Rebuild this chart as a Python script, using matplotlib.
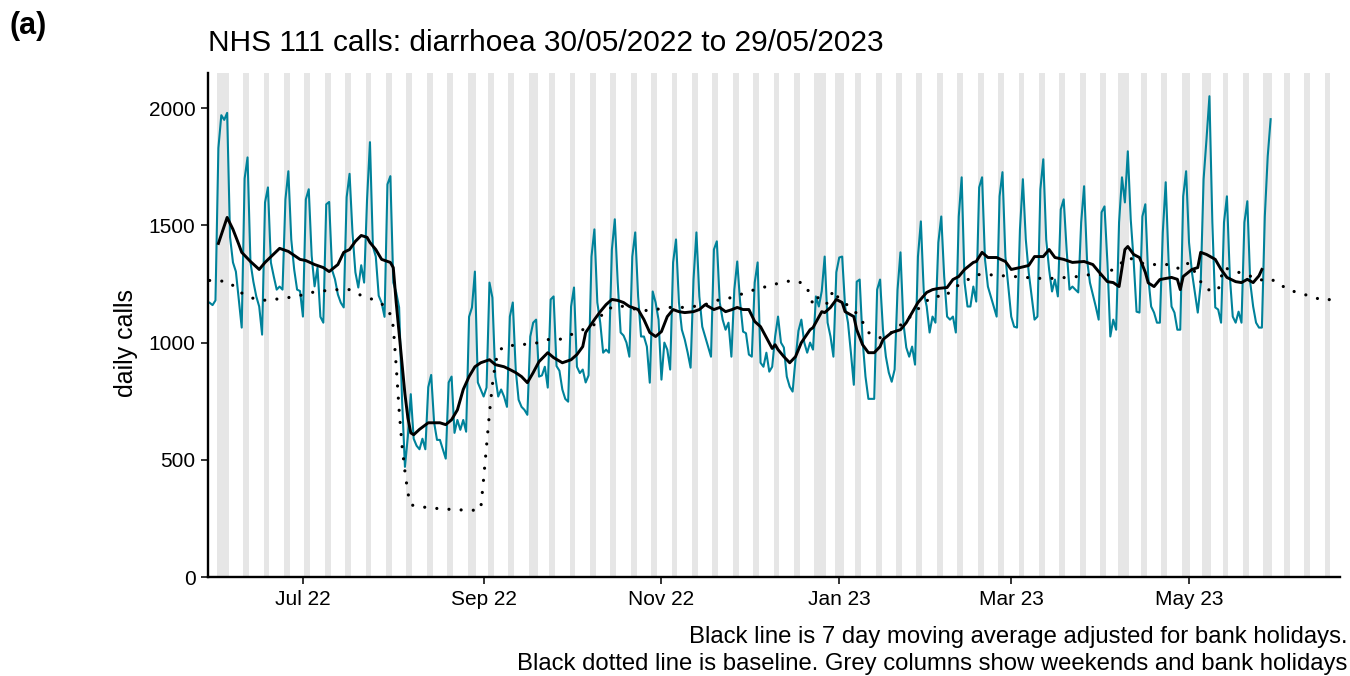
import pandas as pd
import matplotlib
matplotlib.use("Agg")
import matplotlib.pyplot as plt
import matplotlib.dates as mdates

plt.rcParams['font.family'] = ['Liberation Sans', 'DejaVu Sans']

start = pd.Timestamp('2022-05-30')

# daily NHS 111 calls, one row per week (Mon..Sun), from 30/05/2022
daily_calls = [
    1170, 1160, 1180, 1830, 1970, 1950, 1980,
    1450, 1342, 1303, 1184, 1064, 1700, 1790,
    1342, 1260, 1197, 1154, 1034, 1598, 1662,
    1342, 1282, 1226, 1239, 1226, 1611, 1731,
    1440, 1312, 1226, 1220, 1111, 1611, 1654,
    1370, 1240, 1320, 1110, 1085, 1590, 1600,
    1310, 1270, 1205, 1170, 1150, 1620, 1720,
    1470, 1300, 1235, 1330, 1256, 1610, 1855,
    1410, 1367, 1200, 1170, 1110, 1675, 1710,
    1256, 1214, 1150, 760, 470, 600, 780,
    590, 560, 545, 590, 545, 810, 862,
    660, 585, 585, 545, 505, 830, 855,
    615, 670, 628, 670, 620, 1110, 1150,
    1303, 830, 800, 770, 808, 1256, 1192,
    855, 770, 800, 770, 726, 1111, 1171,
    885, 756, 726, 713, 692, 1026, 1085,
    1098, 855, 860, 897, 808, 1184, 1197,
    900, 880, 800, 760, 748, 1154, 1235,
    897, 870, 885, 830, 860, 1367, 1483,
    1171, 1085, 957, 970, 957, 1397, 1526,
    1256, 1043, 1030, 1000, 940, 1367, 1470,
    1197, 1026, 1026, 983, 829, 1218, 1171,
    1098, 842, 1000, 970, 885, 1342, 1440,
    1171, 1055, 1013, 957, 893, 1269, 1470,
    1197, 1068, 1026, 983, 940, 1397, 1432,
    1171, 1098, 1055, 1085, 940, 1226, 1346,
    1171, 1047, 1040, 949, 940, 1256, 1342,
    914, 897, 957, 876, 897, 1026, 1111,
    1000, 979, 855, 812, 791, 930, 1050,
    1098, 1000, 957, 1000, 970, 1197, 1154,
    1220, 1367, 1085, 1026, 940, 1300, 1363,
    1367, 1154, 1085, 957, 820, 1260, 1269,
    1013, 855, 760, 760, 760, 1226, 1269,
    1055, 940, 872, 833, 885, 1226, 1385,
    1085, 979, 940, 983, 906, 1367, 1517,
    1214, 1154, 1043, 1111, 1085, 1427, 1538,
    1282, 1111, 1098, 1111, 1043, 1538, 1705,
    1256, 1154, 1154, 1239, 1175, 1662, 1705,
    1355, 1239, 1197, 1154, 1111, 1624, 1727,
    1367, 1239, 1111, 1068, 1064, 1483, 1697,
    1440, 1299, 1197, 1098, 1111, 1654, 1782,
    1440, 1312, 1218, 1269, 1197, 1568, 1611,
    1397, 1226, 1239, 1226, 1214, 1513, 1667,
    1355, 1256, 1205, 1154, 1098, 1556, 1581,
    1342, 1026, 1098, 1055, 1513, 1705, 1598,
    1816, 1526, 1350, 1132, 1128, 1538, 1590,
    1282, 1154, 1128, 1085, 1085, 1470, 1684,
    1342, 1154, 1128, 1055, 1055, 1624, 1731,
    1427, 1300, 1214, 1128, 1250, 1697, 1868,
    2051, 1513, 1150, 1141, 1085, 1513, 1624,
    1282, 1111, 1085, 1132, 1085, 1513, 1603,
    1256, 1154, 1085, 1064, 1064, 1538, 1795,
    1953,
]

# 7 day moving average (adjusted for bank holidays): day offset, value
ma_day = [3, 6, 8, 10, 11, 14, 17, 19, 24, 27, 31, 33, 36, 39, 41, 44, 46, 48, 50, 52,
          54, 55, 57, 59, 62, 63, 64, 65, 66, 67, 68, 69, 70, 72, 75, 79, 81, 83, 85, 87,
          89, 91, 93, 96, 98, 101, 103, 105, 107, 109, 111, 113, 116, 118, 121, 124, 126, 128, 129, 132,
          134, 136, 138, 140, 142, 144, 145, 147, 149, 151, 153, 155, 157, 159, 161, 163, 166, 168, 170, 173,
          175, 177, 179, 181, 183, 185, 187, 189, 191, 193, 194, 195, 197, 199, 201, 203, 206, 207, 210, 211,
          213, 215, 217, 218, 221, 222, 224, 226, 228, 230, 231, 234, 237, 239, 241, 243, 246, 248, 250, 253,
          255, 257, 259, 262, 263, 265, 267, 270, 273, 275, 278, 281, 283, 286, 288, 290, 293, 296, 300, 303,
          305, 308, 310, 312, 314, 315, 317, 319, 321, 322, 324, 326, 330, 332, 333, 334, 337, 339, 340, 342,
          345, 347, 349, 352, 354, 356, 358, 360, 361]
ma_val = [1423, 1534, 1483, 1419, 1385, 1346, 1312, 1342, 1402, 1389, 1355, 1350, 1333, 1320, 1303, 1333, 1385, 1397, 1432, 1457,
          1449, 1427, 1397, 1355, 1342, 1320, 1171, 1040, 914, 780, 680, 615, 607, 630, 658, 658, 650, 671, 713, 800,
          855, 897, 914, 927, 906, 897, 885, 872, 855, 829, 872, 919, 957, 936, 914, 927, 949, 983, 1043, 1098,
          1132, 1162, 1184, 1180, 1171, 1154, 1150, 1141, 1098, 1043, 1026, 1047, 1111, 1141, 1132, 1128, 1132, 1141, 1162, 1141,
          1150, 1132, 1140, 1150, 1141, 1141, 1090, 1068, 1021, 975, 991, 970, 940, 914, 940, 1000, 1055, 1064, 1132, 1128,
          1150, 1184, 1171, 1132, 1111, 1055, 991, 957, 957, 983, 1013, 1043, 1055, 1085, 1128, 1171, 1214, 1226, 1231, 1235,
          1269, 1282, 1312, 1342, 1346, 1385, 1363, 1363, 1346, 1312, 1320, 1329, 1367, 1367, 1397, 1363, 1355, 1342, 1346, 1333,
          1303, 1260, 1256, 1239, 1397, 1410, 1376, 1363, 1300, 1255, 1239, 1269, 1278, 1270, 1226, 1282, 1312, 1320, 1385, 1376,
          1355, 1312, 1278, 1260, 1256, 1270, 1256, 1285, 1312]

# baseline: day offset, value
base_day = [0, 3, 7, 10, 14, 18, 22, 27, 31, 35, 40, 44, 48, 52, 56, 60, 62, 63, 64, 65,
            66, 67, 68, 69, 72, 76, 80, 84, 88, 92, 93, 94, 95, 96, 97, 98, 99, 101, 106, 110,
            113, 116, 120, 124, 128, 132, 136, 140, 144, 148, 153, 157, 162, 166, 170, 174, 179, 183, 187, 191,
            196, 200, 204, 205, 206, 207, 209, 212, 214, 216, 220, 223, 226, 230, 234, 238, 242, 245, 249, 252,
            255, 259, 263, 267, 271, 276, 280, 285, 289, 294, 298, 302, 306, 310, 313, 315, 318, 321, 325, 330,
            333, 336, 340, 342, 346, 347, 348, 352, 356, 360, 363, 367, 369, 373, 378, 382, 387]
base_val = [1265, 1265, 1256, 1218, 1192, 1180, 1184, 1192, 1201, 1214, 1222, 1226, 1226, 1201, 1184, 1158, 1120, 1068, 900, 713,
            560, 450, 359, 308, 300, 295, 290, 288, 285, 285, 290, 420, 560, 700, 820, 910, 960, 985, 990, 995,
            1000, 1013, 1013, 1034, 1055, 1077, 1141, 1158, 1150, 1135, 1141, 1150, 1150, 1154, 1162, 1180, 1192, 1209, 1226, 1239,
            1256, 1265, 1252, 1230, 1205, 1160, 1197, 1165, 1225, 1184, 1150, 1111, 1043, 1021, 1043, 1085, 1128, 1171, 1200, 1192,
            1231, 1260, 1290, 1290, 1286, 1282, 1278, 1274, 1274, 1278, 1282, 1290, 1290, 1312, 1342, 1363, 1350, 1333, 1333, 1333,
            1312, 1342, 1260, 1226, 1222, 1278, 1320, 1303, 1290, 1265, 1274, 1256, 1231, 1214, 1197, 1180, 1188]

bank_holidays = ['2022-06-02', '2022-06-03', '2022-08-29', '2022-09-19', '2022-12-26', '2022-12-27',
                 '2023-01-02', '2023-04-07', '2023-04-10', '2023-05-01', '2023-05-08', '2023-05-29']

dates = pd.date_range(start, periods=len(daily_calls), freq='D')
ma_dates = start + pd.to_timedelta(ma_day, unit='D')
base_dates = start + pd.to_timedelta(base_day, unit='D')

fig = plt.figure(figsize=(13.5, 6.76), dpi=100)
ax = fig.add_axes([0.154, 0.1464, 0.8386, 0.7456])

# grey columns for weekends and bank holidays
bh = set(pd.to_datetime(bank_holidays))
half = pd.Timedelta(hours=12)
for d in pd.date_range(start - pd.Timedelta(days=1), start + pd.Timedelta(days=390), freq='D'):
    if d.dayofweek >= 5 or d in bh:
        ax.axvspan(d - half, d + half, color='#e6e6e6', lw=0, zorder=0)

ax.plot(dates, daily_calls, color='#00829a', lw=1.5, zorder=2)
ax.plot(base_dates, base_val, color='black', lw=2.3, linestyle=(0, (0.01, 3.8)),
        dash_capstyle='round', zorder=3)
ax.plot(ma_dates, ma_val, color='black', lw=2.1, zorder=4)

ax.set_xlim(start - pd.Timedelta(days=0.6), start + pd.Timedelta(days=387.8))
ax.set_ylim(0, 2150)
ax.set_yticks([0, 500, 1000, 1500, 2000])
ax.xaxis.set_major_locator(mdates.MonthLocator(bymonth=[1, 3, 5, 7, 9, 11]))
ax.xaxis.set_major_formatter(mdates.DateFormatter('%b %y'))

for s in ['top', 'right']:
    ax.spines[s].set_visible(False)
for s in ['left', 'bottom']:
    ax.spines[s].set_linewidth(1.7)
    ax.spines[s].set_color('black')
ax.tick_params(axis='both', labelsize=15, length=5, width=1.4, color='#333333',
               labelcolor='black', pad=4)

fig.text(0.154, 0.937, 'NHS 111 calls: diarrhoea 30/05/2022 to 29/05/2023', fontsize=21.5, va='center')
fig.text(0.007, 0.962, '(a)', fontsize=22, fontweight='bold', va='center')
fig.text(0.093, 0.493, 'daily calls', fontsize=18, rotation=90, va='center', ha='center')
fig.text(0.998, 0.057, 'Black line is 7 day moving average adjusted for bank holidays.',
         fontsize=17.2, ha='right', va='center')
fig.text(0.998, 0.018, 'Black dotted line is baseline. Grey columns show weekends and bank holidays',
         fontsize=17.2, ha='right', va='center')

fig.savefig('out.png', dpi=100)
